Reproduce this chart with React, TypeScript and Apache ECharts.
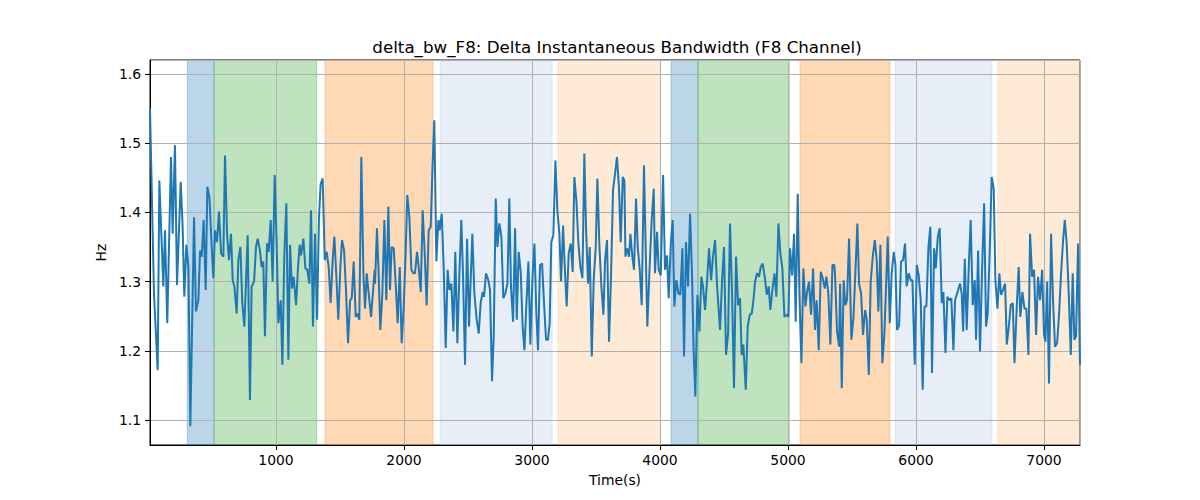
import { useEffect, useRef } from "react"
import * as echarts from "echarts"

// time stamps (s) of the traced points
const times = [
  16, 47, 76, 89, 120, 133, 151, 180, 193, 211, 227, 256, 271, 284, 300, 316, 331, 360, 375, 394,
  407, 420, 435, 451, 464, 480, 498, 511, 524, 539, 555, 571, 589, 602, 618, 633, 649, 662, 675, 693,
  706, 722, 737, 753, 779, 797, 810, 829, 844, 857,
  875, 888, 901, 914, 930, 943, 959, 974, 990, 1006, 1019, 1037, 1050, 1065, 1081, 1097, 1110, 1125, 1138, 1157,
  1172, 1185, 1196, 1214, 1230, 1245, 1261, 1274, 1289, 1305, 1321, 1336, 1349, 1365, 1381, 1396, 1412, 1427, 1443, 1456,
  1472, 1487, 1503, 1516, 1532, 1547, 1563, 1579, 1592, 1607, 1623, 1636, 1651, 1667, 1683, 1696, 1709, 1724, 1743, 1771,
  1774, 1789, 1802, 1815, 1831, 1847, 1862, 1878, 1891, 1904, 1920, 1935, 1951, 1967, 1982, 1998, 2013, 2026, 2042, 2058,
  2073, 2086, 2102, 2115, 2131, 2146, 2162, 2177, 2193, 2209, 2222, 2237, 2253, 2269, 2279, 2295, 2310, 2326, 2341, 2355,
  2370, 2386, 2401, 2417, 2433, 2448, 2461, 2477, 2493, 2508, 2534, 2550, 2568, 2584, 2599, 2615, 2625, 2641, 2659,
  2672, 2688, 2701, 2717, 2730, 2745, 2761, 2776, 2792, 2808, 2823, 2836, 2852, 2868, 2881, 2896, 2912, 2927, 2941, 2956,
  2972, 2987, 3003, 3019, 3034, 3047, 3063, 3079, 3094, 3110, 3125, 3138, 3151, 3167, 3183, 3198, 3214, 3227, 3243, 3256,
  3271, 3287, 3303, 3318, 3331, 3347, 3362, 3378, 3394, 3409, 3422, 3438, 3451, 3467, 3482, 3498, 3511, 3526, 3542, 3558,
  3571, 3586, 3602, 3618, 3633, 3649, 3664, 3680, 3693, 3709, 3722, 3730, 3743, 3758, 3769, 3784, 3797, 3813, 3826, 3842,
  3857, 3875, 3888, 3901, 3917, 3935, 3951, 3961, 3977, 3990, 4006, 4024, 4039, 4055, 4068, 4084, 4099, 4112, 4128, 4144,
  4159, 4175, 4188, 4203, 4219, 4235, 4250, 4263, 4276, 4292, 4308, 4323, 4336, 4352, 4368, 4383, 4399, 4414, 4430, 4446,
  4469, 4485, 4500, 4516, 4532, 4547, 4563, 4578, 4594, 4610, 4625, 4638, 4651, 4670, 4685, 4701, 4717, 4730, 4743, 4758,
  4774, 4787, 4802, 4818, 4834, 4849, 4862, 4878, 4894, 4909, 4925, 4940, 4956, 4972, 4987, 5003, 5016, 5032, 5047, 5060,
  5076, 5089, 5105, 5120, 5136, 5149, 5164, 5180, 5196, 5211, 5224, 5240, 5256, 5271, 5287, 5300, 5315, 5331, 5347, 5362,
  5368, 5383, 5399, 5407, 5420, 5435, 5448, 5461, 5477, 5495, 5511, 5526, 5542, 5555, 5571, 5586, 5602, 5615, 5631, 5646,
  5662, 5678, 5693, 5706, 5722, 5737, 5753, 5766, 5779, 5795, 5810, 5826, 5839, 5852, 5868, 5883, 5899, 5914, 5927, 5943,
  5959, 5972, 5990, 6006, 6021, 6037, 6052, 6066, 6081, 6097, 6112, 6125, 6141, 6154, 6170, 6185, 6201, 6214, 6230, 6245,
  6261, 6276, 6292, 6305,
  6344, 6357, 6368, 6381, 6396, 6412, 6427, 6443, 6459, 6469, 6485, 6500, 6516, 6532, 6547, 6560, 6576, 6591, 6607, 6620,
  6636, 6651, 6664, 6680, 6696, 6709, 6724, 6740, 6756, 6769, 6787, 6802, 6815, 6831, 6847, 6862, 6878, 6891, 6907, 6922,
  6938, 6953, 6969, 6985, 7000, 7011, 7024, 7039, 7055, 7071, 7086, 7102, 7118, 7133, 7149, 7162, 7177, 7193, 7209, 7224,
  7237, 7250, 7266, 7281,
]

// delta bandwidth (Hz) at each time stamp
const hz = [
  1.55, 1.283, 1.172, 1.446, 1.293, 1.374, 1.240, 1.480, 1.369, 1.497, 1.295, 1.444, 1.379, 1.278, 1.353, 1.321, 1.091, 1.393, 1.257, 1.273,
  1.345, 1.336, 1.389, 1.288, 1.437, 1.422, 1.350, 1.305, 1.374, 1.357, 1.401, 1.341, 1.336, 1.482, 1.369, 1.331, 1.369, 1.302, 1.293, 1.254,
  1.331, 1.350, 1.269, 1.235, 1.367, 1.129, 1.293, 1.300, 1.350, 1.362,
  1.345, 1.321, 1.329, 1.221, 1.355, 1.343, 1.389, 1.300, 1.454, 1.350, 1.240, 1.273, 1.180, 1.336, 1.413, 1.187, 1.353, 1.290, 1.307, 1.266,
  1.319, 1.353, 1.338, 1.362, 1.319, 1.317, 1.297, 1.403, 1.235, 1.369, 1.245, 1.393, 1.441, 1.449, 1.331, 1.343, 1.321, 1.269, 1.331, 1.365,
  1.307, 1.245, 1.321, 1.360, 1.345, 1.288, 1.211, 1.273, 1.276, 1.329, 1.249, 1.254, 1.245, 1.480, 1.312, 1.261, 1.312, 1.283, 1.249, 1.317,
  1.297, 1.377, 1.312, 1.230, 1.283, 1.389, 1.273, 1.408, 1.288, 1.350, 1.348, 1.297, 1.240, 1.321, 1.211, 1.264, 1.341, 1.425, 1.393, 1.317,
  1.312, 1.312, 1.343, 1.321, 1.285, 1.403, 1.341, 1.266, 1.374, 1.379, 1.461, 1.533, 1.329, 1.389, 1.374, 1.398, 1.321, 1.204, 1.317, 1.288,
  1.297, 1.228, 1.343, 1.211, 1.312, 1.389, 1.312, 1.180, 1.362, 1.235, 1.369, 1.283, 1.245, 1.225, 1.269, 1.285, 1.278, 1.312, 1.302,
  1.288, 1.156, 1.221, 1.420, 1.350, 1.384, 1.365, 1.276, 1.283, 1.297, 1.420, 1.293, 1.242, 1.377, 1.245, 1.343, 1.314, 1.235, 1.201, 1.266,
  1.329, 1.209, 1.302, 1.355, 1.254, 1.201, 1.324, 1.326, 1.269, 1.216, 1.216, 1.240, 1.357, 1.367, 1.475, 1.403, 1.369, 1.300, 1.381, 1.321,
  1.264, 1.341, 1.355, 1.314, 1.451, 1.417, 1.357, 1.321, 1.305, 1.485, 1.379, 1.297, 1.350, 1.192, 1.302, 1.350, 1.449, 1.355, 1.293, 1.252,
  1.331, 1.360, 1.213, 1.312, 1.432, 1.456, 1.480, 1.434, 1.357, 1.451, 1.446, 1.336, 1.348, 1.336, 1.369, 1.336, 1.317, 1.420, 1.350, 1.317,
  1.266, 1.468, 1.350, 1.235, 1.312, 1.389, 1.434, 1.312, 1.372, 1.317, 1.309, 1.454, 1.317, 1.338, 1.276, 1.353, 1.389, 1.264, 1.302, 1.283,
  1.281, 1.348, 1.192, 1.357, 1.293, 1.398, 1.312, 1.197, 1.134, 1.281, 1.228, 1.307, 1.293, 1.259, 1.302, 1.348, 1.302, 1.336, 1.360, 1.293,
  1.230, 1.302, 1.350, 1.194, 1.225, 1.384, 1.283, 1.146, 1.336, 1.266, 1.276, 1.194, 1.209, 1.144, 1.235, 1.252, 1.254, 1.273, 1.300, 1.312,
  1.307, 1.321, 1.326, 1.307, 1.281, 1.293, 1.259, 1.288, 1.312, 1.278, 1.384, 1.341, 1.319, 1.249, 1.252, 1.249, 1.348, 1.309, 1.369, 1.242,
  1.427, 1.283, 1.182, 1.319, 1.264, 1.285, 1.300, 1.252, 1.319, 1.230, 1.273, 1.201, 1.314, 1.305, 1.290, 1.307, 1.283, 1.209, 1.324, 1.324,
  1.307, 1.228, 1.206, 1.297, 1.146, 1.302, 1.266, 1.273, 1.362, 1.216, 1.247, 1.312, 1.384, 1.297, 1.283, 1.223, 1.259, 1.245, 1.165, 1.300,
  1.336, 1.360, 1.331, 1.257, 1.353, 1.182, 1.225, 1.293, 1.365, 1.240, 1.312, 1.343, 1.324, 1.230, 1.237, 1.329, 1.331, 1.355, 1.293, 1.312,
  1.302, 1.302, 1.180, 1.324, 1.309, 1.273, 1.144, 1.264, 1.264, 1.350, 1.379, 1.168, 1.348, 1.319, 1.365, 1.377, 1.269, 1.285, 1.197, 1.278,
  1.273, 1.276, 1.201, 1.273,
  1.297, 1.283, 1.228, 1.333, 1.230, 1.321, 1.389, 1.266, 1.302, 1.216, 1.345, 1.199, 1.317, 1.413, 1.235, 1.254, 1.345, 1.451, 1.434, 1.302,
  1.261, 1.312, 1.281, 1.288, 1.297, 1.209, 1.233, 1.266, 1.269, 1.182, 1.264, 1.321, 1.249, 1.285, 1.261, 1.261, 1.194, 1.369, 1.307, 1.317,
  1.223, 1.307, 1.273, 1.317, 1.223, 1.213, 1.300, 1.153, 1.369, 1.269, 1.206, 1.211, 1.254, 1.312, 1.360, 1.389, 1.355, 1.283, 1.194, 1.312,
  1.216, 1.221, 1.355, 1.180,
]

// shaded segments
const bandStarts = [307, 516, 1383, 2282, 3203, 4086, 4297, 5094, 5836, 6638]
const bandEnds = [516, 1318, 2227, 3157, 4005, 4297, 5010, 5797, 6592, 7281]
const bandColors = [
  "rgba(31,119,180,0.3)",
  "rgba(44,160,44,0.3)",
  "rgba(255,127,14,0.3)",
  "rgba(174,199,232,0.3)",
  "rgba(255,187,120,0.3)",
  "rgba(31,119,180,0.3)",
  "rgba(44,160,44,0.3)",
  "rgba(255,127,14,0.3)",
  "rgba(174,199,232,0.3)",
  "rgba(255,187,120,0.3)",
]

const FONT = "DejaVu Sans"

export default function App() {
  const chartRef = useRef<HTMLDivElement>(null)

  useEffect(() => {
    if (!chartRef.current) return
    document.body.style.margin = "0"

    const chart = echarts.init(chartRef.current, null, { renderer: "svg" })

    const option = {
      animation: false,
      title: {
        text: "delta_bw_F8: Delta Instantaneous Bandwidth (F8 Channel)",
        left: 612,
        top: 33,
        textAlign: "center",
        textStyle: { fontFamily: FONT, fontSize: 16.7, fontWeight: "normal", color: "#000" }
      },
      grid: {
        left: 150,
        right: 120,
        top: 60,
        bottom: 55,
        show: true,
        borderColor: "#000",
        borderWidth: 1,
        backgroundColor: "transparent"
      },
      xAxis: {
        type: "value",
        min: 16,
        max: 7281,
        splitNumber: 7,
        z: 3,
        name: "Time(s)",
        nameLocation: "middle",
        nameGap: 28,
        nameTextStyle: { fontFamily: FONT, fontSize: 13.9, color: "#000" },
        axisLine: { show: true, onZero: false, lineStyle: { color: "#000", width: 1 } },
        axisTick: { show: true, length: 5, lineStyle: { color: "#000", width: 1 } },
        axisLabel: {
          fontFamily: FONT, fontSize: 13.9, color: "#000", margin: 8,
          showMinLabel: false, showMaxLabel: false,
          formatter: (v: number) => String(v)
        },
        splitLine: { show: true, lineStyle: { color: "#b0b0b0", width: 1 } }
      },
      yAxis: {
        type: "value",
        min: 1.064,
        max: 1.62,
        splitNumber: 6,
        z: 3,
        name: "Hz",
        nameLocation: "middle",
        nameGap: 36,
        nameRotate: 90,
        nameTextStyle: { fontFamily: FONT, fontSize: 13.9, color: "#000" },
        axisLine: { show: true, onZero: false, lineStyle: { color: "#000", width: 1 } },
        axisTick: { show: true, length: 5, lineStyle: { color: "#000", width: 1 } },
        axisLabel: {
          fontFamily: FONT, fontSize: 13.9, color: "#000", margin: 9,
          showMinLabel: false, showMaxLabel: false
        },
        splitLine: { show: true, lineStyle: { color: "#b0b0b0", width: 1 } }
      },
      series: [
        {
          type: "line",
          z: 1,
          data: [],
          silent: true,
          markArea: {
            silent: true,
            data: bandStarts.map((s, i) => [
              {
                xAxis: s,
                itemStyle: { color: bandColors[i], borderColor: bandColors[i], borderWidth: 1 }
              },
              { xAxis: bandEnds[i] }
            ])
          }
        },
        {
          type: "line",
          z: 5,
          data: times.map((t, i) => [t, hz[i]]),
          showSymbol: false,
          lineStyle: { color: "#1f77b4", width: 2 },
          itemStyle: { color: "#1f77b4" }
        }
      ]
    }

    chart.setOption(option)

    return () => {
      chart.dispose()
    }
  }, [])

  return <div ref={chartRef} style={{ width: 1200, height: 500 }} />
}
